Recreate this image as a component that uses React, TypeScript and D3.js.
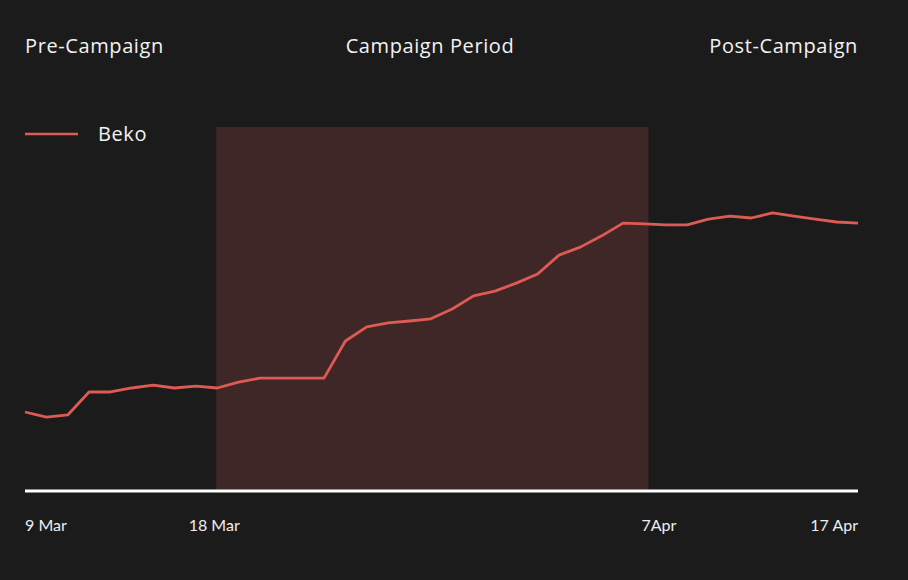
import React from 'react';
import * as d3 from 'd3';

// daily index values, 9 Mar – 17 Apr
const startDate = new Date(2024, 2, 9);
const values = [
    21.7, 20.3, 20.9, 27.2, 27.2, 28.3, 29.1, 28.3, 28.8, 28.3,
    29.9, 31.0, 31.0, 31.0, 31.0, 41.2, 45.1, 46.2, 46.7, 47.3,
    50.0, 53.6, 54.9, 57.1, 59.6, 64.8, 67.0, 70.1, 73.6, 73.4,
    73.1, 73.1, 74.7, 75.5, 75.0, 76.4, 75.5, 74.7, 73.9, 73.6,
];
const seriesName = 'Beko';
const periodLabels = ['Pre-Campaign', 'Campaign Period', 'Post-Campaign'];
const campaignStart = new Date(2024, 2, 18);
const campaignEnd = new Date(2024, 3, 7);
const tickDates = [new Date(2024, 2, 9), new Date(2024, 2, 18), new Date(2024, 3, 7), new Date(2024, 3, 17)];
const tickLabels = ['9 Mar', '18 Mar', '7Apr', '17 Apr'];

const data = values.map((v, i) => ({ date: d3.timeDay.offset(startDate, i), value: v }));

export default function App() {
    const width = 908;
    const height = 580;
    const left = 25;
    const right = 858;
    const bottom = 491;
    const top = 127;

    const x = d3.scaleTime()
        .domain([startDate, data[data.length - 1].date])
        .range([left, right]);
    const y = d3.scaleLinear().domain([0, 100]).range([bottom, top]);

    const line = d3.line<{ date: Date; value: number }>()
        .x(d => x(d.date))
        .y(d => y(d.value));

    const lineColor = '#de5b53';
    const headFont = '"Open Sans", Lato, sans-serif';
    const tickAnchor = ['start', 'middle', 'start', 'end'];
    const tickShift = [0, -3, -3, 0];

    return (
        <svg
            width={width}
            height={height}
            style={{ position: 'absolute', left: 0, top: 0, display: 'block' }}
        >
            <rect width={width} height={height} fill="#1c1b1c" />

            {/* campaign window */}
            <rect
                x={x(campaignStart) - 1}
                y={top}
                width={x(campaignEnd) - x(campaignStart) + 5}
                height={bottom - top}
                fill="#3f2627"
            />

            {/* period headers */}
            <g fontFamily={headFont} fontSize={20} letterSpacing={0.6} fill="#f2f2f2">
                <text x={left} y={53} textAnchor="start">{periodLabels[0]}</text>
                <text x={430} y={53} textAnchor="middle">{periodLabels[1]}</text>
                <text x={right} y={53} textAnchor="end">{periodLabels[2]}</text>
            </g>

            {/* legend */}
            <line x1={left} x2={78} y1={134} y2={134} stroke={lineColor} strokeWidth={2.5} />
            <text x={98} y={141} fontFamily={headFont} fontSize={20} letterSpacing={0.6} fill="#f2f2f2">
                {seriesName}
            </text>

            <path d={line(data) ?? ''} fill="none" stroke={lineColor} strokeWidth={2.8} strokeLinejoin="round" />

            {/* x axis */}
            <line x1={left} x2={right} y1={bottom} y2={bottom} stroke="#ffffff" strokeWidth={3} />
            <g fontFamily="Lato, sans-serif" fontSize={16} fill="#eeeeee">
                {tickDates.map((d, i) => (
                    <text key={tickLabels[i]} x={x(d) + tickShift[i]} y={531} textAnchor={tickAnchor[i]}>
                        {tickLabels[i]}
                    </text>
                ))}
            </g>
        </svg>
    );
}
